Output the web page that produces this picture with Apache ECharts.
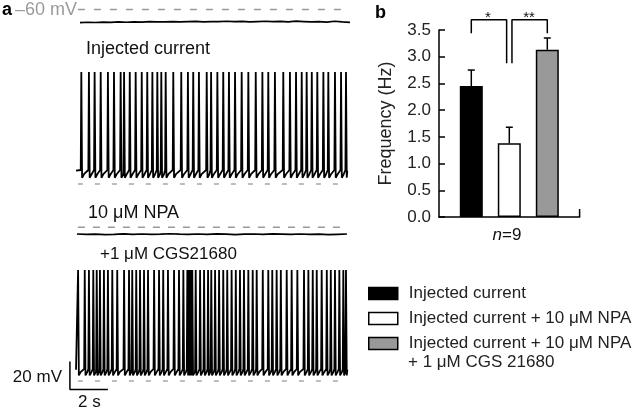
<!DOCTYPE html>
<html><head><meta charset="utf-8">
<script src="https://cdn.jsdelivr.net/npm/echarts@6/dist/echarts.min.js"></script>
<style>html,body{margin:0;padding:0;background:#fff}#c{width:632px;height:410px}</style>
</head><body><div id="c"></div>
<script>
const FONT = "'Liberation Sans', Arial, Helvetica, sans-serif";

// ---------- Panel a data (times in s, potentials in mV) ----------
const restPotential = -60;
const recordingEnd = 14.28;
// spike times, injected current
const spikesControl = [0.28, 0.68, 0.98, 1.30, 1.68, 2.00, 2.35, 2.53, 2.83, 3.14, 3.46, 3.75, 4.02, 4.28, 4.49, 4.72,
  5.12, 5.54, 5.89, 6.17, 6.47, 6.88, 7.11, 7.44, 7.75, 8.05, 8.37, 8.72, 9.07, 9.46, 9.81, 10.12, 10.47, 10.91,
  11.26, 11.58, 11.88, 12.14, 12.41, 12.70, 13.02, 13.28, 13.63, 13.95, 14.21];
// spike times, + 1 uM CGS21680
const spikesCGS = [0.11, 0.46, 0.68, 0.91, 1.09, 1.26, 1.47, 1.68, 1.91, 2.17, 2.53, 2.79, 2.96, 3.17, 3.37, 3.58,
  3.79, 4.11, 4.37, 4.59, 4.84, 5.16, 5.42, 5.65, 5.86, 5.95, 6.04, 6.12, 6.30, 6.53, 6.74, 6.95, 7.12, 7.32, 7.53,
  7.75, 7.96, 8.19, 8.41, 8.63, 8.84, 9.07, 9.30, 9.51, 9.83, 10.12, 10.33, 10.56, 10.78, 11.09, 11.35, 11.65, 12.00,
  12.23, 12.46, 12.67, 12.93, 13.20, 13.41, 13.63, 13.86, 14.07, 14.21];
// spike levels: [baseline, peak, trough]
const levelsControl = [-50, 20, -55.5];
const levelsCGS = [-51.4, 19.3, -56];
// resting trace (no current), sampled evenly between start and end
const restTraceSpan = [0.21, 14.42];
const restTrace = [-69.4, -69.1, -69.3, -69.0, -69.2, -68.9, -69.1, -68.8, -69.0, -68.7, -68.9, -68.8, -68.6, -68.9,
  -68.7, -68.5, -68.8, -68.6, -68.7, -68.4, -68.7, -68.5, -68.8, -68.6, -68.4, -68.7, -68.5, -68.8, -68.3, -68.6,
  -68.9, -68.7, -69.0, -68.4, -68.9, -69.2];
// 10 uM NPA trace
const npaTraceSpan = [0.05, 14.26];
const npaTrace = [-64.8, -65.1, -64.9, -65.2, -65.0, -64.7, -65.0, -64.8, -65.1, -64.9, -64.6, -64.9, -65.1, -64.8,
  -65.0, -64.7, -64.9, -65.2, -64.9, -64.8, -65.0, -64.7, -64.9, -65.1, -64.8, -65.0, -64.9, -65.2, -65.0, -64.8];
const refLineSpan = [0.1, 14.25];
// scale bar: 20 mV x 2 s
const scaleBar = [[-0.32, -46], [-0.32, -66], [1.68, -66]];

// ---------- Panel b data ----------
const conditions = ['Injected current', 'Injected current + 10 μM NPA', 'Injected current + 10 μM NPA\n+ 1 μM CGS 21680'];
const barPos = [1, 2, 3];
const freqMean = [2.45, 1.38, 3.13];
const freqErr = [0.30, 0.30, 0.22];
const barColors = ['#000000', '#ffffff', '#999999'];
const yTickMax = 3.5, yTickStep = 0.5;
const bracketA = [[1, 3.44], [1, 3.69], [1.93, 3.69], [1.93, 2.88]];
const bracketB = [[2.07, 2.88], [2.07, 3.69], [3, 3.69], [3, 3.44]];
const sigLabels = ['*', '**'];
const nLabel = '9';

// ---------- build helpers ----------
function spikeTrace(times, lv, end) {
  const [base, peak, trough] = lv;
  const pts = [[0, base - 0.5]];
  for (let i = 0; i < times.length; i++) {
    const ts = times[i];
    const next = i + 1 < times.length ? times[i + 1] : end + 0.1;
    pts.push([ts - 0.03, base]);
    pts.push([ts, peak]);
    pts.push([ts + 0.04, trough]);
    pts.push([Math.min(ts + 0.14, next - 0.04), trough + 2.5]);
  }
  pts.push([end, base - 0.5]);
  return pts.filter(p => p[0] <= end);
}
function evenTrace(vals, span) {
  return vals.map((v, i) => [span[0] + (span[1] - span[0]) * i / (vals.length - 1), v]);
}
const refLine = () => [[refLineSpan[0], restPotential], [refLineSpan[1], restPotential]];

const chart = echarts.init(document.getElementById('c'), null, {renderer: 'canvas'});

const tAxis = i => ({gridIndex: i, type: 'value', min: -0.5, max: 14.5, show: false});
const vAxis = (i, mn, mx) => ({gridIndex: i, type: 'value', min: mn, max: mx, show: false});
const lineS = (g, data, color, width, type, extra) => Object.assign({
  type: 'line', xAxisIndex: g, yAxisIndex: g, data, symbol: 'none', silent: true, clip: false,
  lineStyle: {color, width, type: type || 'solid'}, z: 3
}, extra || {});

const series = [
  lineS(0, refLine(), '#9a9a9a', 1.5, [7, 9]),
  lineS(0, evenTrace(restTrace, restTraceSpan), '#000', 1.7),
  lineS(1, refLine(), '#a8a8a8', 1.5, [5, 12]),
  lineS(1, spikeTrace(spikesControl, levelsControl, recordingEnd), '#000', 1.8),
  lineS(2, refLine(), '#9a9a9a', 1.5, [7, 8]),
  lineS(2, evenTrace(npaTrace, npaTraceSpan), '#000', 1.7),
  lineS(3, refLine(), '#a8a8a8', 1.5, [5, 12]),
  lineS(3, spikeTrace(spikesCGS, levelsCGS, recordingEnd), '#000', 1.8),
  lineS(3, scaleBar, '#000', 1.5)
];
conditions.forEach((name, i) => {
  series.push({
    type: 'bar', name, xAxisIndex: 4, yAxisIndex: 4, data: [[barPos[i], freqMean[i]]],
    barWidth: 23, barGap: '-100%', silent: true,
    itemStyle: {color: barColors[i], borderColor: '#000', borderWidth: 1.5}, z: 2
  });
});
series.push({
  type: 'custom', xAxisIndex: 4, yAxisIndex: 4, silent: true, z: 3,
  data: barPos.map((p, i) => [p, freqMean[i], freqErr[i]]),
  renderItem: (params, api) => {
    const x = api.value(0), m = api.value(1), e = api.value(2);
    const a = api.coord([x, m]), b = api.coord([x, m + e]);
    const st = {stroke: '#000', lineWidth: 1.5};
    return {type: 'group', children: [
      {type: 'line', shape: {x1: a[0], y1: a[1], x2: b[0], y2: b[1]}, style: st},
      {type: 'line', shape: {x1: b[0] - 3.5, y1: b[1], x2: b[0] + 3.5, y2: b[1]}, style: st}
    ]};
  }
});
series.push(lineS(4, bracketA, '#000', 1.5));
series.push(lineS(4, bracketB, '#000', 1.5));
series.push(lineS(4, [[3.85, 0], [3.85, 0.15]], '#000', 1.5));

const txt = (x, y, text, font, opts) => ({
  type: 'text', x, y, silent: true,
  style: Object.assign({text, font, fill: '#111', textAlign: 'left', textVerticalAlign: 'middle'}, opts || {})
});

const option = {
  animation: false,
  backgroundColor: '#fff',
  textStyle: {fontFamily: FONT},
  grid: [
    {left: 66.5, width: 285, top: 1.1, height: 28},
    {left: 66.5, width: 285, top: 65, height: 126},
    {left: 66.5, width: 285, top: 220.3, height: 21},
    {left: 66.5, width: 285, top: 262, height: 133},
    {left: 439, width: 140.6, top: 30, height: 187}
  ],
  xAxis: [tAxis(0), tAxis(1), tAxis(2), tAxis(3), {
    gridIndex: 4, type: 'value', min: 0.15, max: 3.85,
    axisLine: {show: true, onZero: false, lineStyle: {color: '#000', width: 1.5}},
    axisTick: {show: false}, axisLabel: {show: false}, splitLine: {show: false}
  }],
  yAxis: [vAxis(0, -74, -54), vAxis(1, -65, 25), vAxis(2, -70, -55), vAxis(3, -70, 25), {
    gridIndex: 4, type: 'value', min: 0, max: yTickMax, interval: yTickStep,
    axisLine: {show: true, lineStyle: {color: '#000', width: 1.5}},
    axisTick: {show: true, inside: true, length: 6, lineStyle: {color: '#000', width: 1.5}},
    axisLabel: {fontSize: 17, color: '#222', margin: 8, fontFamily: FONT, formatter: v => v.toFixed(1)},
    splitLine: {show: false},
    name: 'Frequency (Hz)', nameLocation: 'middle', nameGap: 44, nameRotate: 90,
    nameTextStyle: {fontSize: 18, color: '#222', fontFamily: FONT}
  }],
  legend: {
    orient: 'vertical', left: 368, top: 284, padding: 0, itemGap: 6,
    itemWidth: 29, itemHeight: 12, icon: 'rect', selectedMode: false,
    itemStyle: {borderColor: '#000', borderWidth: 1.5},
    formatter: name => name.split('\n')[0],
    textStyle: {fontSize: 17, lineHeight: 19, color: '#222', fontFamily: FONT, padding: [0, 0, 0, 6]},
    data: conditions
  },
  graphic: [
    txt(2, 10, 'a', 'bold 18px ' + FONT, {fill: '#000'}),
    txt(15, 10, '–60 mV', '18px ' + FONT, {fill: '#9a9a9a'}),
    txt(86, 49, 'Injected current', '18px ' + FONT),
    txt(88, 213, '10 μM NPA', '18px ' + FONT),
    txt(100, 254, '+1 μM CGS21680', '17px ' + FONT),
    txt(62, 377, '20 mV', '17px ' + FONT, {textAlign: 'right'}),
    txt(78, 402, '2 s', '17px ' + FONT),
    txt(375, 13, 'b', 'bold 18px ' + FONT, {fill: '#000'}),
    txt(488, 18, sigLabels[0], '15px ' + FONT, {textAlign: 'center'}),
    txt(529, 18, sigLabels[1], '15px ' + FONT, {textAlign: 'center'}),
    txt(408, 362, conditions[2].split('\n')[1], '17px ' + FONT, {fill: '#222'}),
    {type: 'text', x: 507, y: 235, silent: true, style: {
      text: '{i|n}=' + nLabel, font: '17px ' + FONT, fill: '#111', textAlign: 'center', textVerticalAlign: 'middle',
      rich: {i: {fontStyle: 'italic', fontSize: 17, fontFamily: FONT, fill: '#111'}}
    }}
  ],
  series
};
chart.setOption(option);
</script>
</body></html>
